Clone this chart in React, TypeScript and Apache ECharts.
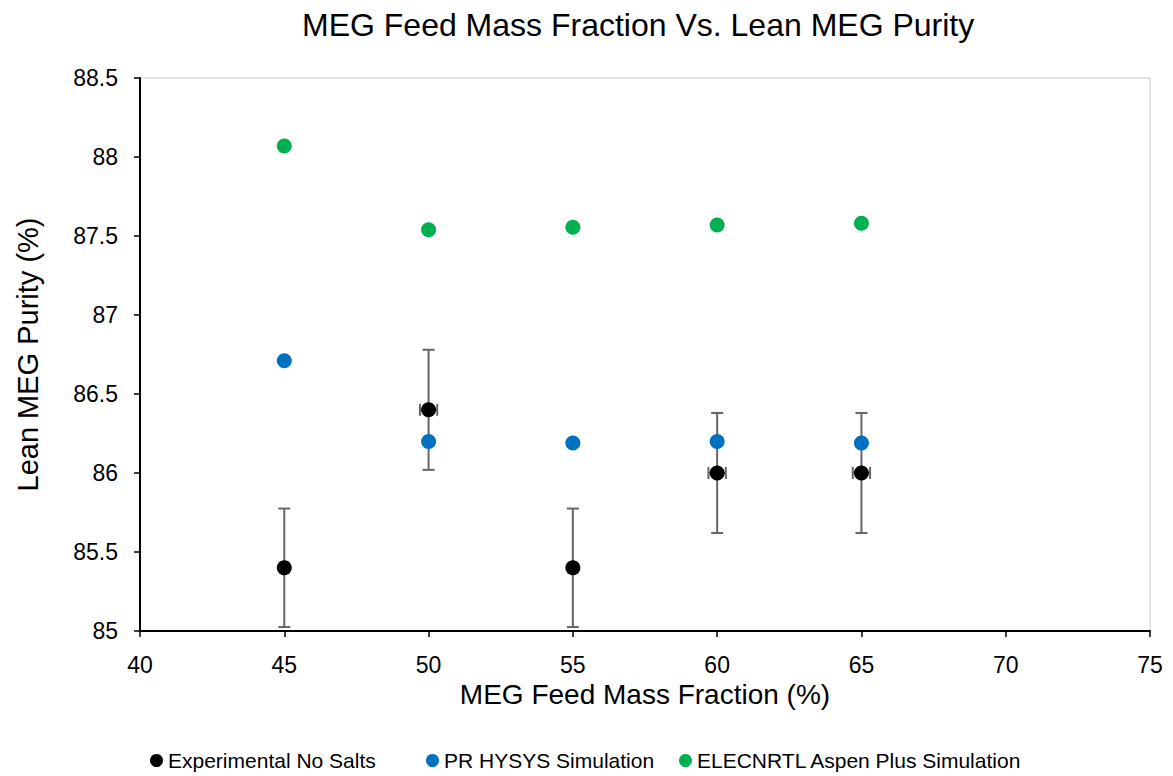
import React, { useEffect, useRef } from "react";
import * as echarts from "echarts";

const xValues = [45, 50, 55, 60, 65];
const experimental = [85.4, 86.4, 85.4, 86.0, 86.0];
const expYErr = [0.375, 0.38, 0.375, 0.38, 0.38];
const expXErr = [0.15, 0.3, 0.15, 0.3, 0.3];
const hysys = [86.71, 86.2, 86.19, 86.2, 86.19];
const aspen = [88.07, 87.54, 87.555, 87.57, 87.58];

const seriesNames = [
  "Experimental No Salts",
  "PR HYSYS Simulation",
  "ELECNRTL Aspen Plus Simulation",
];

const FONT = "'Liberation Sans', Arial, sans-serif";

export default function App() {
  const ref = useRef<HTMLDivElement>(null);
  useEffect(() => {
    document.body.style.margin = "0";
    const chart = echarts.init(ref.current!, null, { renderer: "svg" });
    const errData = xValues.map((x, i) => [x, experimental[i], expYErr[i], expXErr[i]]);
    const legendLefts = [150, 426, 679];
    const option: any = {
      animation: false,
      backgroundColor: "#ffffff",
      textStyle: { fontFamily: FONT },
      title: {
        text: "MEG Feed Mass Fraction Vs. Lean MEG Purity",
        left: 297,
        top: 4,
        textStyle: { fontFamily: FONT, fontSize: 32, fontWeight: "normal", color: "#000" },
      },
      grid: {
        left: 140,
        right: 23,
        top: 78,
        bottom: 145,
        show: true,
        borderColor: "#c8c8c8",
        borderWidth: 1,
      },
      xAxis: {
        type: "value",
        min: 40,
        max: 75,
        interval: 5,
        name: "MEG Feed Mass Fraction (%)",
        nameLocation: "middle",
        nameGap: 38,
        nameTextStyle: { fontFamily: FONT, fontSize: 28, color: "#000" },
        axisLine: { show: true, lineStyle: { color: "#000", width: 2 } },
        axisTick: { show: true, length: 6, inside: false, lineStyle: { color: "#000", width: 1.5 } },
        axisLabel: { fontFamily: FONT, fontSize: 23, color: "#000", margin: 22 },
        splitLine: { show: false },
      },
      yAxis: {
        type: "value",
        min: 85,
        max: 88.5,
        interval: 0.5,
        name: "Lean MEG Purity (%)",
        nameLocation: "middle",
        nameGap: 98,
        nameTextStyle: { fontFamily: FONT, fontSize: 29, color: "#000" },
        axisLine: { show: true, lineStyle: { color: "#000", width: 2 } },
        axisTick: { show: true, length: 6, inside: false, lineStyle: { color: "#000", width: 1.5 } },
        axisLabel: { fontFamily: FONT, fontSize: 23, color: "#000", margin: 22 },
        splitLine: { show: false },
      },
      legend: seriesNames.map((n, i) => ({
        bottom: 5,
        left: legendLefts[i],
        icon: "circle",
        itemWidth: 13,
        itemHeight: 13,
        itemGap: 0,
        padding: 0,
        data: [n],
        textStyle: { fontFamily: FONT, fontSize: 21, color: "#000" },
      })),
      series: [
        {
          type: "custom",
          name: "errorbars",
          z: 1,
          data: errData,
          renderItem: (params: any, api: any) => {
            const x = api.value(0);
            const y = api.value(1);
            const ey = api.value(2);
            const ex = api.value(3);
            const top = api.coord([x, y + ey]);
            const bot = api.coord([x, y - ey]);
            const left = api.coord([x - ex, y]);
            const right = api.coord([x + ex, y]);
            const cap = 6;
            const style = { stroke: "#666666", lineWidth: 2 };
            return {
              type: "group",
              children: [
                { type: "line", shape: { x1: top[0], y1: top[1], x2: bot[0], y2: bot[1] }, style },
                { type: "line", shape: { x1: top[0] - cap, y1: top[1], x2: top[0] + cap, y2: top[1] }, style },
                { type: "line", shape: { x1: bot[0] - cap, y1: bot[1], x2: bot[0] + cap, y2: bot[1] }, style },
                { type: "line", shape: { x1: left[0], y1: left[1], x2: right[0], y2: right[1] }, style },
                { type: "line", shape: { x1: left[0], y1: left[1] - cap, x2: left[0], y2: left[1] + cap }, style },
                { type: "line", shape: { x1: right[0], y1: right[1] - cap, x2: right[0], y2: right[1] + cap }, style },
              ],
            };
          },
        },
        {
          type: "scatter",
          name: seriesNames[0],
          z: 3,
          symbolSize: 15,
          itemStyle: { color: "#000000", opacity: 1 },
          data: xValues.map((x, i) => [x, experimental[i]]),
        },
        {
          type: "scatter",
          name: seriesNames[1],
          z: 3,
          symbolSize: 15,
          itemStyle: { color: "#0070C0", opacity: 1 },
          data: xValues.map((x, i) => [x, hysys[i]]),
        },
        {
          type: "scatter",
          name: seriesNames[2],
          z: 3,
          symbolSize: 15,
          itemStyle: { color: "#00B050", opacity: 1 },
          data: xValues.map((x, i) => [x, aspen[i]]),
        },
      ],
    };
    chart.setOption(option);
    return () => chart.dispose();
  }, []);
  return <div ref={ref} style={{ width: 1173, height: 776 }} />;
}
